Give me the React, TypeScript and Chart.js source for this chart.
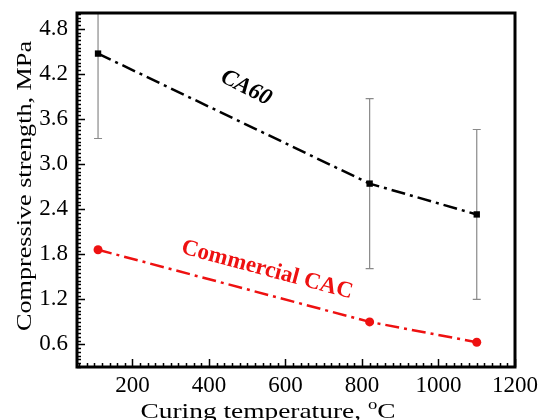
import React, { useEffect, useRef } from "react";
import { Chart, registerables } from "chart.js";
Chart.register(...registerables);

const temps = [110, 820, 1100];
const ca60 = [4.47, 2.74, 2.33];
const ca60Err = [1.13, 1.13, 1.13];
const cac = [1.86, 0.9, 0.63];
const xTicks = [200, 400, 600, 800, 1000, 1200];
const yTicks = [0.6, 1.2, 1.8, 2.4, 3.0, 3.6, 4.2, 4.8];
const xTitle = "Curing temperature, ";
const yTitle = "Compressive strength, MPa";
const label1 = "CA60";
const label2 = "Commercial CAC";

const FONT = "'Liberation Serif', 'Times New Roman', serif";

const overlay = {
  id: "overlay",
  beforeDatasetsDraw(chart: any) {
    const ctx = chart.ctx;
    const xs = chart.scales.x;
    const ys = chart.scales.y;
    const a = chart.chartArea;
    ctx.save();
    ctx.beginPath();
    ctx.rect(a.left, a.top, a.right - a.left, a.bottom - a.top);
    ctx.clip();
    ctx.strokeStyle = "#8a8a8a";
    ctx.lineWidth = 1.2;
    temps.forEach((t, i) => {
      const px = xs.getPixelForValue(t);
      const top = ys.getPixelForValue(ca60[i] + ca60Err[i]);
      const bot = ys.getPixelForValue(ca60[i] - ca60Err[i]);
      ctx.beginPath();
      ctx.moveTo(px, top);
      ctx.lineTo(px, bot);
      ctx.moveTo(px - 4, top);
      ctx.lineTo(px + 4, top);
      ctx.moveTo(px - 4, bot);
      ctx.lineTo(px + 4, bot);
      ctx.stroke();
    });
    ctx.restore();
  },
  afterDraw(chart: any) {
    const ctx = chart.ctx;
    const xs = chart.scales.x;
    const ys = chart.scales.y;
    const a = chart.chartArea;
    ctx.save();
    // ticks (inward)
    ctx.strokeStyle = "#000";
    ctx.lineWidth = 1.5;
    ctx.beginPath();
    for (let v = 60; v <= 1200; v += 20) {
      const px = Math.round(xs.getPixelForValue(v)) + 0.5;
      const major = v % 200 === 0;
      ctx.moveTo(px, a.bottom);
      ctx.lineTo(px, a.bottom - (major ? 8 : 4));
    }
    for (let k = 6; k <= 100; k++) {
      const v = k * 0.05;
      if (v < ys.min || v > ys.max) continue;
      const py = Math.round(ys.getPixelForValue(v)) + 0.5;
      const major = k % 12 === 0;
      ctx.moveTo(a.left, py);
      ctx.lineTo(a.left + (major ? 8 : 4), py);
    }
    ctx.stroke();
    // frame
    ctx.lineWidth = 3;
    ctx.strokeRect(a.left, a.top, a.right - a.left, a.bottom - a.top);

    // x title (stretched horizontally)
    ctx.fillStyle = "#000";
    ctx.textBaseline = "alphabetic";
    ctx.textAlign = "left";
    ctx.font = `22px ${FONT}`;
    const w1 = ctx.measureText(xTitle).width;
    const wc = ctx.measureText("C").width;
    ctx.font = `15px ${FONT}`;
    const wo = ctx.measureText("o").width;
    const total = w1 + wo + wc;
    const sxf = 255 / total;
    ctx.save();
    ctx.translate(268 - 255 / 2, 418);
    ctx.scale(sxf, 1);
    ctx.font = `22px ${FONT}`;
    ctx.fillText(xTitle, 0, 0);
    ctx.font = `15px ${FONT}`;
    ctx.fillText("o", w1, -9);
    ctx.font = `22px ${FONT}`;
    ctx.fillText("C", w1 + wo, 0);
    ctx.restore();

    // y title (stretched along its length)
    ctx.save();
    ctx.translate(25, 186);
    ctx.rotate(-Math.PI / 2);
    ctx.textAlign = "center";
    ctx.textBaseline = "middle";
    ctx.font = `22px ${FONT}`;
    const wy = ctx.measureText(yTitle).width;
    ctx.scale(290 / wy, 1);
    ctx.fillText(yTitle, 0, 0);
    ctx.restore();

    // series labels
    ctx.save();
    ctx.translate(246, 88);
    ctx.rotate((27 * Math.PI) / 180);
    ctx.textAlign = "center";
    ctx.textBaseline = "middle";
    ctx.font = `italic bold 23px ${FONT}`;
    ctx.fillText(label1, 0, 0);
    ctx.restore();

    ctx.save();
    ctx.translate(267, 270);
    ctx.rotate((15 * Math.PI) / 180);
    ctx.textAlign = "center";
    ctx.textBaseline = "middle";
    ctx.fillStyle = "#ee1111";
    ctx.font = `bold 23px ${FONT}`;
    ctx.fillText(label2, 0, 0);
    ctx.restore();

    ctx.restore();
  },
};

export default function App() {
  const ref = useRef<HTMLCanvasElement>(null);
  useEffect(() => {
    if (!ref.current) return;
    const chart = new Chart(ref.current, {
      type: "line",
      data: {
        datasets: [
          {
            label: label1,
            data: temps.map((t, i) => ({ x: t, y: ca60[i] })),
            borderColor: "#000",
            backgroundColor: "#000",
            borderWidth: 2.5,
            borderDash: [14, 5, 3, 5],
            pointStyle: "rect",
            pointRadius: 4.5,
            pointBorderWidth: 0,
            tension: 0,
          },
          {
            label: label2,
            data: temps.map((t, i) => ({ x: t, y: cac[i] })),
            borderColor: "#ee1111",
            backgroundColor: "#ee1111",
            borderWidth: 2.5,
            borderDash: [14, 5, 3, 5],
            pointStyle: "circle",
            pointRadius: 4.5,
            pointBorderWidth: 0,
            tension: 0,
          },
        ],
      },
      options: {
        animation: false,
        responsive: false,
        layout: { padding: { top: 13, right: 24, left: 0, bottom: 0 } },
        plugins: { legend: { display: false }, tooltip: { enabled: false } },
        scales: {
          x: {
            type: "linear",
            min: 55,
            max: 1200,
            grid: { display: false, drawTicks: false },
            border: { display: false },
            ticks: {
              color: "#000",
              padding: 5,
              font: { family: FONT, size: 23 },
              maxRotation: 0,
              callback: (v: any) => String(v),
            },
            afterBuildTicks: (s: any) => {
              s.ticks = xTicks.map((v) => ({ value: v }));
            },
            afterFit: (s: any) => {
              s.height = 53;
              s.paddingLeft = 0;
              s.paddingRight = 0;
              s.paddingTop = 0;
              s.paddingBottom = 0;
            },
          },
          y: {
            type: "linear",
            min: 0.3,
            max: 5.01,
            grid: { display: false, drawTicks: false },
            border: { display: false },
            ticks: {
              color: "#000",
              padding: 9,
              font: { family: FONT, size: 23 },
              callback: (v: any) => Number(v).toFixed(1),
            },
            afterBuildTicks: (s: any) => {
              s.ticks = yTicks.map((v) => ({ value: v }));
            },
            afterFit: (s: any) => {
              s.width = 77;
              s.paddingLeft = 0;
              s.paddingRight = 0;
              s.paddingTop = 0;
              s.paddingBottom = 0;
            },
          },
        },
      },
      plugins: [overlay],
    });
    return () => chart.destroy();
  }, []);
  return (
    <canvas
      ref={ref}
      width={539}
      height={420}
      style={{ position: "absolute", left: 0, top: 0, width: 539, height: 420 }}
    />
  );
}
